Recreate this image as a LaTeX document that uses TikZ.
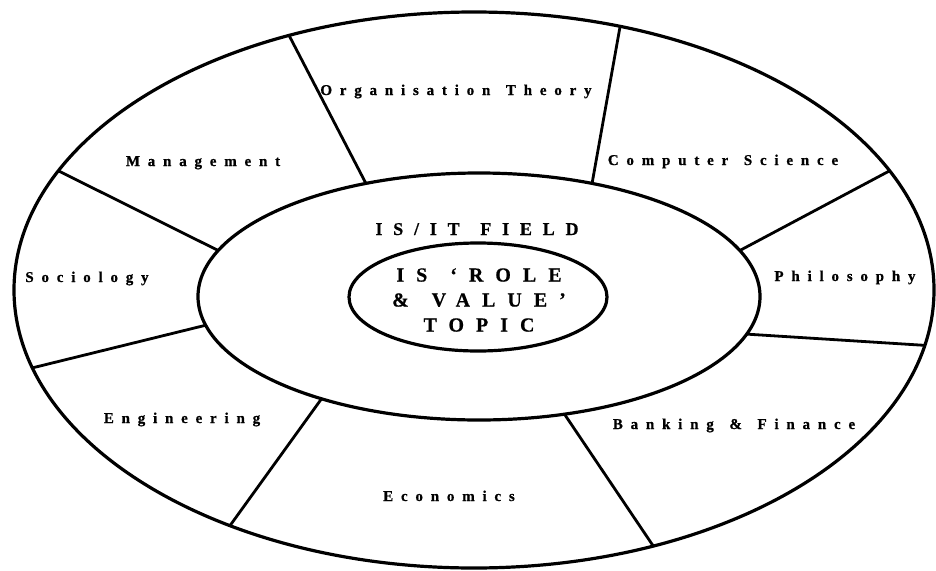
\documentclass[tikz,border=0pt]{standalone}
\usepackage{fontspec}
\newfontfamily\discfont[LetterSpace=52, WordSpace=1.35, BoldFeatures={FakeBold=0.8}]{Liberation Serif}
\newfontfamily\corefont[LetterSpace=60, WordSpace=1.35, BoldFeatures={FakeBold=0.6}]{Liberation Serif}
\usetikzlibrary{shapes.geometric}

\begin{document}
\begin{tikzpicture}[x=1pt, y=-1pt,
    ring/.style={draw, ellipse, line width=3.2pt, inner sep=0pt, outer sep=0pt},
    divider/.style={line width=2.8pt},
    discipline/.style={font=\discfont\bfseries\fontsize{15}{17}\selectfont, anchor=base}]
  \useasboundingbox (0,0) rectangle (936,570);
  % the three rings
  \node[ring, minimum width=920pt, minimum height=556pt] (outer) at (474,290) {};
  \node[ring, minimum width=562pt, minimum height=247pt] (field) at (479,296.5) {};
  \node[ring, minimum width=258pt, minimum height=108pt] (topic) at (478,297) {};
  % spokes from the field ring out to the outer ring
  \foreach \a/\b in {135/126, 45/61, 10/16, 352/353, 306/305, 213/224, 186/190, 170/164}
    \draw[divider] (field.\a) -- (outer.\b);
  % disciplines
  \node[discipline] (orgtheory) at (456,95) {Organisation Theory};
  \node[discipline] (mgmt) at (203,166) {Management};
  \node[discipline] (compsci) at (723,165) {Computer Science};
  \node[discipline] (socio) at (87,282) {Sociology};
  \node[discipline] (philo) at (845,281) {Philosophy};
  \node[discipline] (eng) at (182,423) {Engineering};
  \node[discipline] (econ) at (449,501) {Economics};
  \node[discipline] (banking) at (734,429) {Banking \& Finance};
  % field and topic
  \node[font=\corefont\bfseries\fontsize{18}{20}\selectfont, anchor=base] (fieldlabel) at (477,235) {IS/IT FIELD};
  \node[font=\corefont\bfseries\fontsize{20}{25}\selectfont, align=center] (topiclabel) at (479,300) {IS ‘ROLE\\\& VALUE’\\TOPIC};
\end{tikzpicture}
\end{document}
